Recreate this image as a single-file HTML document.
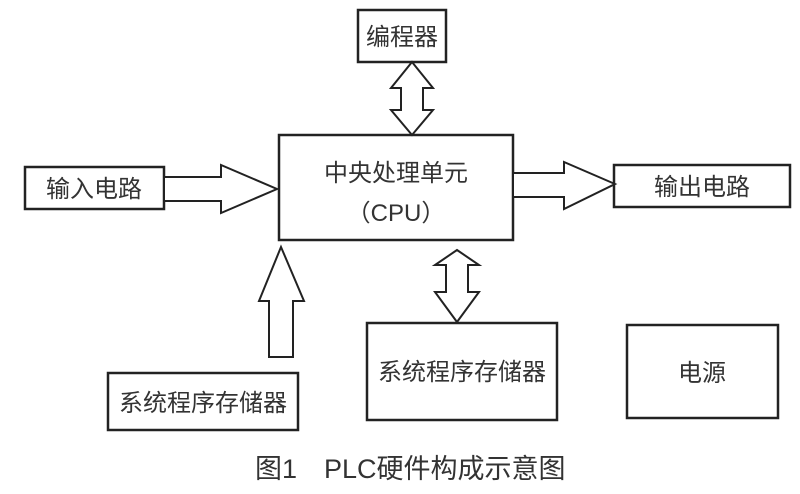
<!DOCTYPE html>
<html><head><meta charset="utf-8"><style>
html,body{margin:0;padding:0;background:#fff;}
svg{display:block}
text{font-family:"Liberation Sans","Noto Sans CJK SC",sans-serif;fill:#333;}
</style></head><body>
<svg width="800" height="494" viewBox="0 0 800 494">
<g fill="none" stroke="#222" stroke-width="2.5">
<rect x="358" y="10" width="88" height="52"/>
<rect x="279" y="135" width="234" height="105"/>
<rect x="25" y="167" width="139" height="42"/>
<rect x="614" y="165" width="176" height="42"/>
<rect x="367" y="323" width="190" height="97"/>
<rect x="108" y="373" width="190" height="57"/>
<rect x="627" y="325" width="151" height="93"/>
</g>
<g fill="#fff" stroke="#222" stroke-width="2">
<polygon points="164,177 221,177 221,165 277,189 221,213 221,201 164,201"/>
<polygon points="513,173 564,173 564,162 615,184 564,209 564,197 513,197"/>
<polygon points="412,62 433,88 423,88 423,110 433,110 412,135 391,110 401,110 401,88 391,88"/>
<polygon points="457,250 479,265 468,265 468,292 479,292 457,322 435,292 446,292 446,265 435,265"/>
<polygon points="281,247 304,301 293,301 293,357 269,357 269,301 259,301"/>
</g>
<g font-size="24" text-anchor="middle">
<text x="402" y="45">编程器</text>
<text x="94" y="197">输入电路</text>
<text x="702" y="195">输出电路</text>
<text x="396" y="181">中央处理单元</text>
<text x="396" y="221">（CPU）</text>
<text x="462" y="380">系统程序存储器</text>
<text x="203" y="411">系统程序存储器</text>
<text x="702" y="381">电源</text>
</g>
<text x="255" y="478" font-size="27">图1　PLC硬件构成示意图</text>
</svg>
</body></html>
